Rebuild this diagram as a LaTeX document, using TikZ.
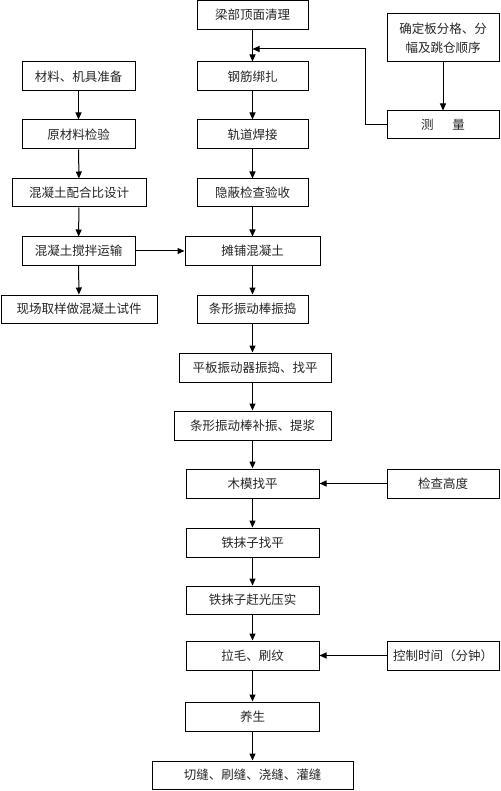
\documentclass[tikz,border=0pt]{standalone}
\usepackage{fontspec}
\newfontfamily\cjk{Noto Sans CJK SC}
\usetikzlibrary{arrows.meta}
\begin{document}
\begin{tikzpicture}[x=1pt,y=-1pt,
  box/.style={draw=black, line width=1pt, fill=white, inner sep=0pt, align=center,
    font=\cjk\fontsize{12.5}{19}\selectfont, text=black!85},
  arr/.style={draw=black, line width=1pt, -{Triangle[length=7pt,width=6pt]}},
  ln/.style={draw=black, line width=1pt}]
\useasboundingbox (0,0) rectangle (500,791);
% main column
\node[box, minimum width=111pt, minimum height=29pt] (n1) at (252.5,15) {梁部顶面清理};
\node[box, minimum width=111pt, minimum height=29pt] (n2) at (252.5,76.5) {钢筋绑扎};
\node[box, minimum width=111pt, minimum height=29pt] (n3) at (252.5,134.5) {轨道焊接};
\node[box, minimum width=111pt, minimum height=28pt] (n4) at (252.5,193) {隐蔽检查验收};
\node[box, minimum width=135pt, minimum height=28pt] (n5) at (252.5,251) {摊铺混凝土};
\node[box, minimum width=111pt, minimum height=28pt] (n6) at (252.5,309) {条形振动棒振捣};
\node[box, minimum width=152pt, minimum height=29pt] (n7) at (255,367.5) {平板振动器振捣、找平};
\node[box, minimum width=157pt, minimum height=29pt] (n8) at (252.5,425.5) {条形振动棒补振、提浆};
\node[box, minimum width=133pt, minimum height=29pt] (n9) at (252.5,483.5) {木模找平};
\node[box, minimum width=133pt, minimum height=29pt] (n10) at (252.5,542.5) {铁抹子找平};
\node[box, minimum width=133pt, minimum height=28pt] (n11) at (252.5,600) {铁抹子赶光压实};
\node[box, minimum width=133pt, minimum height=29pt] (n12) at (252.5,655.5) {拉毛、刷纹};
\node[box, minimum width=134pt, minimum height=29pt] (n13) at (252.5,716.5) {养生};
\node[box, minimum width=201pt, minimum height=28pt] (n14) at (252.5,775) {切缝、刷缝、浇缝、灌缝};
% left column
\node[box, minimum width=113pt, minimum height=29pt] (a1) at (78.5,76.5) {材料、机具准备};
\node[box, minimum width=113pt, minimum height=29pt] (a2) at (78.5,134.5) {原材料检验};
\node[box, minimum width=134pt, minimum height=28pt] (a3) at (79,193) {混凝土配合比设计};
\node[box, minimum width=113pt, minimum height=28pt] (a4) at (78.5,251) {混凝土搅拌运输};
\node[box, minimum width=156pt, minimum height=28pt] (a5) at (79,309) {现场取样做混凝土试件};
% right column
\node[box, minimum width=112pt, minimum height=48pt] (d) at (443,38) {确定板分格、分\\幅及跳仓顺序};
\node[box, minimum width=112pt, minimum height=28pt] (m) at (443,125) {测\hspace{1.5em}量};
\node[box, minimum width=112pt, minimum height=29pt] (c1) at (443,483.5) {检查高度};
\node[box, minimum width=112pt, minimum height=29pt] (c2) at (443,655.5) {控制时间（分钟）};
% connectors main
\draw[arr] (n1) -- (n2);
\draw[arr] (n2) -- (n3);
\draw[arr] (n3) -- (n4);
\draw[arr] (n4) -- (n5);
\draw[arr] (n5) -- (n6);
\draw[arr] (n6.south) -- (n6.south |- n7.north);
\draw[arr] (n8.north |- n7.south) -- (n8.north);
\draw[arr] (n8) -- (n9);
\draw[arr] (n9) -- (n10);
\draw[arr] (n10) -- (n11);
\draw[arr] (n11) -- (n12);
\draw[arr] (n12) -- (n13);
\draw[arr] (n13) -- (n14);
% left
\draw[arr] (a1) -- (a2);
\draw[arr] (a2) -- (a3);
\draw[arr] (a3) -- (a4);
\draw[arr] (a4) -- (a5);
\draw[arr] (a4) -- (n5);
% right
\draw[arr] (d) -- (m);
\coordinate (j) at (252.5,49);
\coordinate (k) at (365,49);
\draw[arr] (m.west) -| (k) -- (j);
\draw[arr] (c1) -- (n9);
\draw[arr] (c2) -- (n12);
\end{tikzpicture}
\end{document}
